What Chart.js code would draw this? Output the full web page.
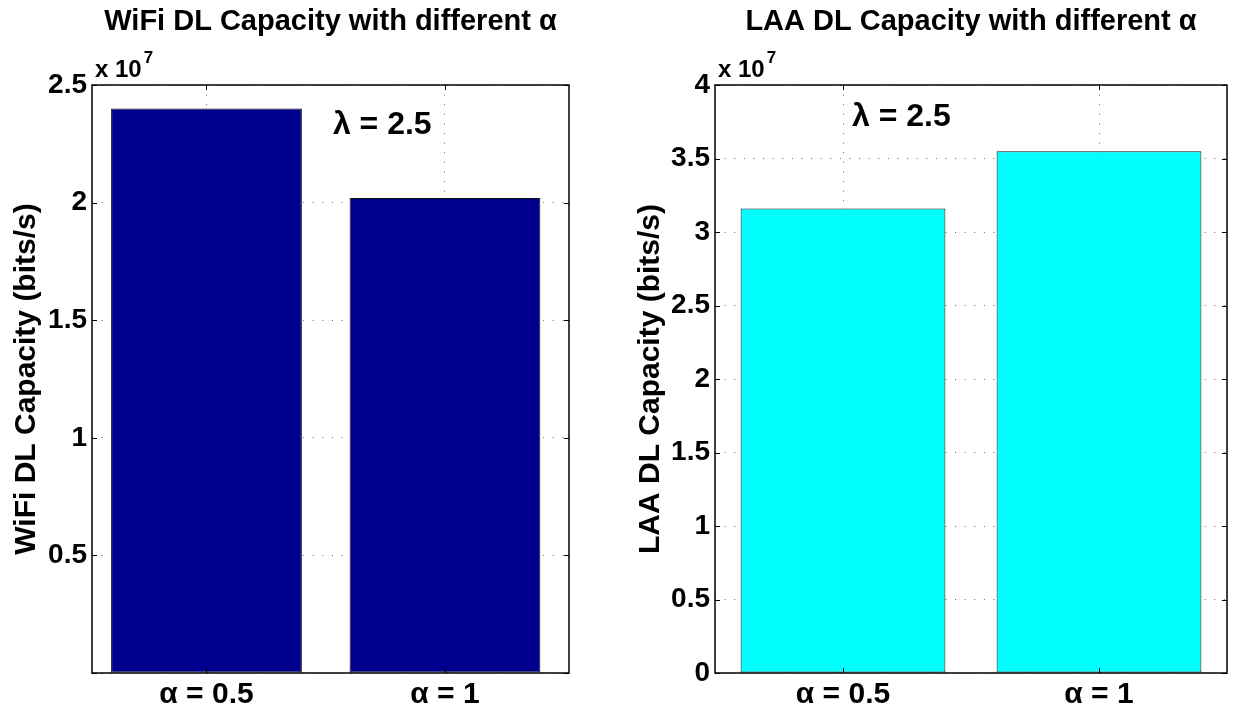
<!DOCTYPE html>
<html>
<head>
<meta charset="utf-8">
<script src="https://cdn.jsdelivr.net/npm/chart.js@4.4.0/dist/chart.umd.min.js"></script>
<style>
  html, body { margin: 0; padding: 0; background: #fff; }
  #wrap { position: relative; width: 1235px; height: 709px; }
  canvas { position: absolute; top: 0; }
</style>
</head>
<body>
<div id="wrap">
  <canvas id="wifi-chart" width="617" height="709" style="left:0;width:617px;height:709px"></canvas>
  <canvas id="laa-chart" width="618" height="709" style="left:617px;width:618px;height:709px"></canvas>
</div>
<script>
// values (bits/s)
const categories = ["\u03b1 = 0.5", "\u03b1 = 1"];
const categoryPos = [1, 2];
const wifiCapacity = [2.40e7, 2.02e7];
const laaCapacity = [3.16e7, 3.55e7];
const wifiTickLabels = ["", "0.5", "1", "1.5", "2", "2.5"];
const laaTickLabels = ["0", "0.5", "1", "1.5", "2", "2.5", "3", "3.5", "4"];

const FONT = "'Liberation Sans', Arial, Helvetica, sans-serif";
const GRID = "#666";

// MATLAB-ish frame: box, inward ticks, titles, exponent and note text
const matlabFrame = {
  id: "matlabFrame",
  afterDraw(chart, args, opts) {
    const { ctx, chartArea: a, scales } = chart;
    const x = scales.x, y = scales.y;
    ctx.save();

    // inward tick marks
    ctx.strokeStyle = "#000";
    ctx.lineWidth = 1;
    ctx.beginPath();
    y.ticks.forEach((t) => {
      const py = Math.round(y.getPixelForValue(t.value)) + 0.5;
      ctx.moveTo(a.left, py); ctx.lineTo(a.left + 5, py);
      ctx.moveTo(a.right, py); ctx.lineTo(a.right - 5, py);
    });
    categoryPos.forEach((v) => {
      const px = Math.round(x.getPixelForValue(v)) + 0.5;
      ctx.moveTo(px, a.bottom); ctx.lineTo(px, a.bottom - 5);
      ctx.moveTo(px, a.top); ctx.lineTo(px, a.top + 5);
    });
    ctx.stroke();

    // box
    ctx.lineWidth = 1.5;
    ctx.strokeRect(a.left, a.top, a.right - a.left, a.bottom - a.top);

    ctx.fillStyle = "#000";
    // title
    ctx.font = "bold 29px " + FONT;
    ctx.textAlign = "center";
    ctx.textBaseline = "alphabetic";
    ctx.fillText(opts.title, (a.left + a.right) / 2, 30);

    // y axis label
    ctx.save();
    ctx.translate(opts.yLabelX, (a.top + a.bottom) / 2);
    ctx.rotate(-Math.PI / 2);
    ctx.textBaseline = "middle";
    ctx.font = "bold 30px " + FONT;
    ctx.fillText(opts.yLabel, 0, 0);
    ctx.restore();

    // exponent
    ctx.textAlign = "left";
    ctx.font = "bold 24px " + FONT;
    ctx.fillText("x 10", a.left + 3, a.top - 8);
    const w = ctx.measureText("x 10").width;
    ctx.font = "bold 17px " + FONT;
    ctx.fillText("7", a.left + 5 + w, a.top - 22);

    // note
    ctx.font = "bold 32px " + FONT;
    ctx.textBaseline = "middle";
    ctx.fillText(opts.note.text, x.getPixelForValue(opts.note.x), y.getPixelForValue(opts.note.y));

    ctx.restore();
  },
};

function makeChart(id, values, color, max, tickLabels, xLim, frame, padRight, yWidth) {
  return new Chart(document.getElementById(id), {
    type: "bar",
    data: {
      datasets: [{
        data: values.map((v, i) => ({ x: categoryPos[i], y: v })),
        backgroundColor: color,
        borderColor: "#111",
        borderWidth: 1,
        borderSkipped: false,
        barPercentage: 0.8,
        categoryPercentage: 1.0,
      }],
    },
    options: {
      responsive: false,
      animation: false,
      layout: { padding: { top: 85, left: 0, right: padRight, bottom: 0 } },
      plugins: {
        legend: { display: false },
        tooltip: { enabled: false },
        matlabFrame: frame,
      },
      scales: {
        x: {
          type: "linear",
          min: xLim[0],
          max: xLim[1],
          offset: false,
          grid: { offset: false, drawTicks: false, lineWidth: 1, color: GRID },
          border: { display: false, dash: [1, 8.6] },
          afterBuildTicks(scale) { scale.ticks = categoryPos.map((v) => ({ value: v })); },
          ticks: {
            stepSize: 1,
            color: "#000",
            padding: 4,
            font: { family: FONT, size: 30, weight: "bold" },
            callback: (value) => categories[categoryPos.indexOf(value)] || "",
          },
          afterFit(scale) { scale.height = 36; },
        },
        y: {
          min: 0,
          max: max,
          grid: { drawTicks: false, color: GRID, lineWidth: 1 },
          border: { display: false, dash: [1, 8.6] },
          ticks: {
            stepSize: 0.5e7,
            color: "#000",
            padding: 5,
            font: { family: FONT, size: 28, weight: "bold" },
            callback: (value, index) => tickLabels[index],
          },
          afterFit(scale) { scale.width = yWidth; },
        },
      },
    },
    plugins: [matlabFrame],
  });
}

makeChart("wifi-chart", wifiCapacity, "#00008f", 2.5e7, wifiTickLabels, [0.52, 2.52], {
  title: "WiFi DL Capacity with different \u03b1",
  yLabel: "WiFi DL Capacity (bits/s)",
  yLabelX: 27,
  note: { text: "\u03bb = 2.5", x: 1.53, y: 2.33e7 },
}, 48, 92);

makeChart("laa-chart", laaCapacity, "#00ffff", 4e7, laaTickLabels, [0.5, 2.5], {
  title: "LAA DL Capacity with different \u03b1",
  yLabel: "LAA DL Capacity (bits/s)",
  yLabelX: 34,
  note: { text: "\u03bb = 2.5", x: 1.035, y: 3.78e7 },
}, 8, 98);
</script>
</body>
</html>
